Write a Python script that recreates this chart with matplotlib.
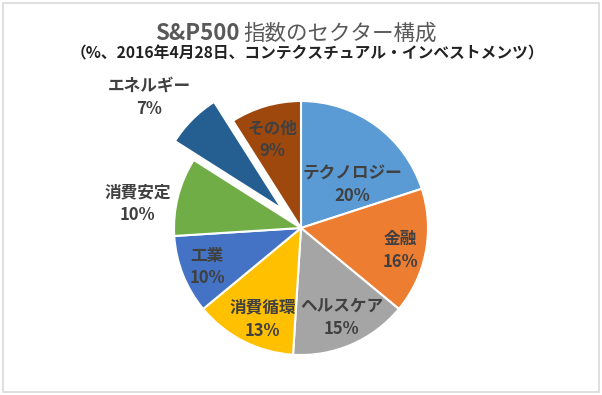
import numpy as np
import matplotlib
matplotlib.use("Agg")
import matplotlib.pyplot as plt
from matplotlib.patches import Rectangle

plt.rcParams["font.family"] = ["Noto Sans CJK JP", "DejaVu Sans"]

# data
sectors = ["テクノロジー", "金融", "ヘルスケア", "消費循環", "工業", "消費安定", "エネルギー", "その他"]
shares = [20, 16, 15, 13, 10, 10, 7, 9]
colors = ["#5B9BD5", "#ED7D31", "#A5A5A5", "#FFC000", "#4472C4", "#70AD47", "#255E91", "#9E480E"]
explode = [0, 0, 0, 0, 0, 0, 0.21, 0]

# label placement (radius units from wedge centre, angle nudge in degrees)
lab_dist = [0.53, 0.80, 0.77, 0.78, 0.80, 1.30, 1.37, 0.73]
lab_nudge = [-14, -2, 1, 4, 1, 6, 5, 2]

W, H = 602, 395
fig = plt.figure(figsize=(W / 100, H / 100), dpi=100)
fig.patches.append(Rectangle((3 / W, 3 / H), 596 / W, 389 / H, transform=fig.transFigure,
                             fill=False, edgecolor="#D9D9D9", lw=1.2))

R_PX = 127
cx, cy = 301, 228
S = 400
ax = fig.add_axes([(cx - S / 2) / W, (H - cy - S / 2) / H, S / W, S / H])
wedges, _ = ax.pie(shares, colors=colors, explode=explode, startangle=90, counterclock=False,
                   wedgeprops=dict(edgecolor="white", linewidth=1.5))
L = S / 2 / R_PX
ax.set_xlim(-L, L)
ax.set_ylim(-L, L)
ax.set_aspect("equal")
ax.axis("off")

for w, name, pct, d, nd in zip(wedges, sectors, shares, lab_dist, lab_nudge):
    mid = np.deg2rad((w.theta1 + w.theta2) / 2 + nd)
    x0, y0 = w.center
    ax.text(x0 + d * np.cos(mid), y0 + d * np.sin(mid), f"{name}\n{pct}%",
            ha="center", va="center", fontsize=12, fontweight="bold",
            color="#404040", linespacing=1.35)

# title in two pieces: latin part bold, japanese part regular
t1 = fig.text(155 / W, 1 - 34 / H, "S&P500", fontsize=16, fontweight="bold",
              color="#595959", ha="left", va="center")
fig.canvas.draw()
bb = t1.get_window_extent()
fig.text(bb.x1 / W + 4 / W, 1 - 34 / H, "指数のセクター構成", fontsize=15.5,
         color="#595959", ha="left", va="center")
fig.text(0.51, 1 - 53 / H, "（%、2016年4月28日、コンテクスチュアル・インベストメンツ）",
         fontsize=11.3, fontweight="bold", color="#222222", ha="center", va="center")

fig.savefig("out.png", dpi=100)
